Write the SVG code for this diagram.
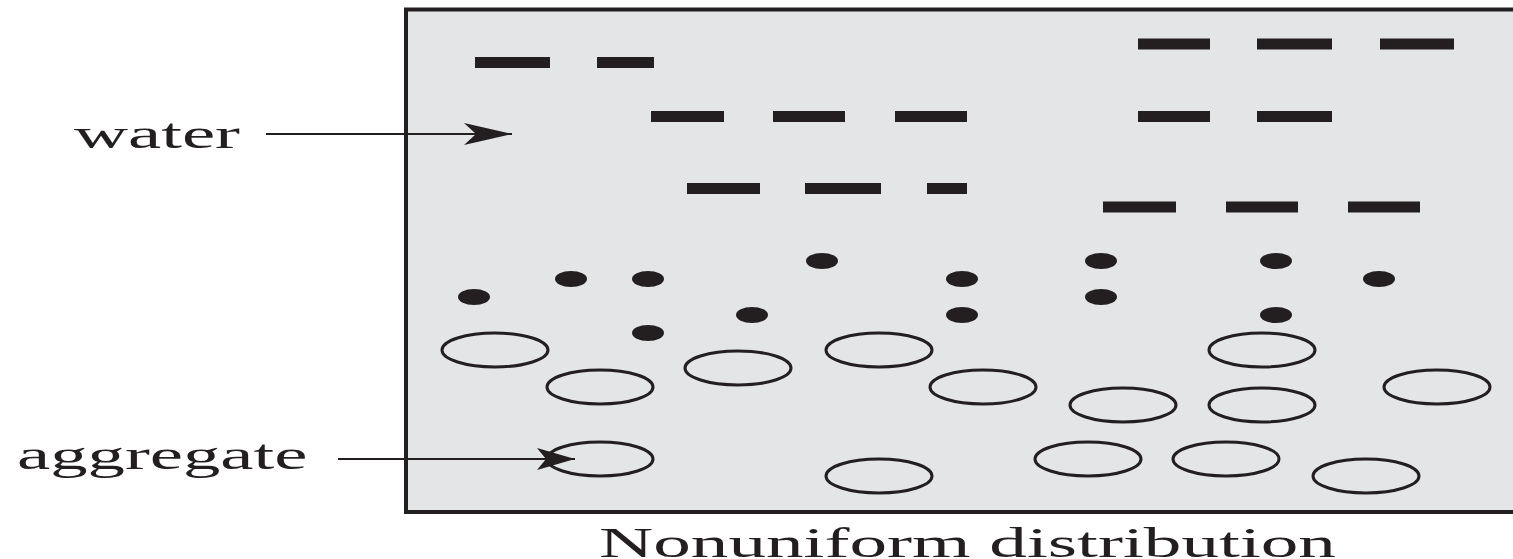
<svg xmlns="http://www.w3.org/2000/svg" width="1513" height="559" viewBox="0 0 1513 559">
  <style>
    .label { font-family: "Liberation Serif", "Times New Roman", serif; font-size: 42px; fill: #231f20; }
    .water { fill: #231f20; }
    .cement { fill: #231f20; }
    .agg { fill: none; stroke: #231f20; stroke-width: 3; }
    .lead { stroke: #231f20; stroke-width: 2; fill: none; }
  </style>
  <defs>
    <marker id="headLong" markerUnits="userSpaceOnUse" markerWidth="48" markerHeight="22" refX="48" refY="11" orient="auto" viewBox="0 0 48 22">
      <path d="M0,0 L48,11 L0,22 L12,11 Z" fill="#231f20"/>
    </marker>
    <marker id="headShort" markerUnits="userSpaceOnUse" markerWidth="38" markerHeight="22" refX="38" refY="11" orient="auto" viewBox="0 0 38 22">
      <path d="M0,0 L38,11 L0,22 L9,11 Z" fill="#231f20"/>
    </marker>
  </defs>

  <!-- container of fresh concrete -->
  <g id="container">
    <rect x="406" y="9.5" width="1200" height="502.5" fill="#e4e5e7" stroke="#231f20" stroke-width="4"/>
  </g>

  <!-- free water (dashes) -->
  <g id="water-dashes" class="water">
    <rect x="475" y="57" width="75" height="11"/>
    <rect x="597" y="57" width="57" height="11"/>
    <rect x="1138" y="38.5" width="72" height="11"/>
    <rect x="1257" y="38.5" width="75" height="11"/>
    <rect x="1380" y="38.5" width="74" height="11"/>
    <rect x="651" y="111" width="73" height="11"/>
    <rect x="773" y="111" width="72" height="11"/>
    <rect x="895" y="111" width="72" height="11"/>
    <rect x="1138" y="111" width="72" height="11"/>
    <rect x="1257" y="111" width="75" height="11"/>
    <rect x="687" y="183" width="73" height="11"/>
    <rect x="805" y="183" width="76" height="11"/>
    <rect x="927" y="183" width="40" height="11"/>
    <rect x="1103" y="201.5" width="73" height="11"/>
    <rect x="1226" y="201.5" width="72" height="11"/>
    <rect x="1348" y="201.5" width="72" height="11"/>
  </g>

  <!-- cement grains (dots) -->
  <g id="cement-grains" class="cement">
    <ellipse cx="474" cy="297" rx="16" ry="8"/>
    <ellipse cx="571" cy="279" rx="16" ry="8"/>
    <ellipse cx="648" cy="279" rx="16" ry="8"/>
    <ellipse cx="648" cy="333" rx="16" ry="8"/>
    <ellipse cx="752" cy="315" rx="16" ry="8"/>
    <ellipse cx="822" cy="261" rx="16" ry="8"/>
    <ellipse cx="962" cy="279" rx="16" ry="8"/>
    <ellipse cx="962" cy="315" rx="16" ry="8"/>
    <ellipse cx="1101" cy="261" rx="16" ry="8"/>
    <ellipse cx="1101" cy="297" rx="16" ry="8"/>
    <ellipse cx="1276" cy="261" rx="16" ry="8"/>
    <ellipse cx="1276" cy="315" rx="16" ry="8"/>
    <ellipse cx="1379" cy="279" rx="16" ry="8"/>
  </g>

  <!-- aggregate particles (open ellipses) -->
  <g id="aggregate-particles" class="agg">
    <ellipse cx="495" cy="350" rx="53" ry="17"/>
    <ellipse cx="600" cy="387" rx="53" ry="17"/>
    <ellipse cx="600" cy="459" rx="53" ry="17"/>
    <ellipse cx="738" cy="368" rx="53" ry="17"/>
    <ellipse cx="879" cy="350" rx="53" ry="17"/>
    <ellipse cx="983" cy="387" rx="53" ry="17"/>
    <ellipse cx="1123" cy="405" rx="53" ry="17"/>
    <ellipse cx="1262" cy="350" rx="53" ry="17"/>
    <ellipse cx="1262" cy="405" rx="53" ry="17"/>
    <ellipse cx="1437" cy="387" rx="53" ry="17"/>
    <ellipse cx="879" cy="476" rx="53" ry="17"/>
    <ellipse cx="1088" cy="459" rx="53" ry="17"/>
    <ellipse cx="1226" cy="459" rx="53" ry="17"/>
    <ellipse cx="1366" cy="476" rx="53" ry="17"/>
  </g>

  <!-- labels, stretched horizontally -->
  <g id="label-water">
    <text class="label" transform="translate(74,148) scale(1.78,1)">water</text>
  </g>
  <g id="label-aggregate">
    <text class="label" transform="translate(17,469) scale(1.78,1)">aggregate</text>
  </g>
  <g id="caption">
    <text class="label" transform="translate(599,557) scale(1.79,1)">Nonuniform distribution</text>
  </g>

  <!-- leader arrows -->
  <g id="connectors">
    <line class="lead" x1="266" y1="134" x2="512" y2="134" marker-end="url(#headLong)"/>
    <line class="lead" x1="338" y1="459" x2="575" y2="459" marker-end="url(#headShort)"/>
  </g>
</svg>
